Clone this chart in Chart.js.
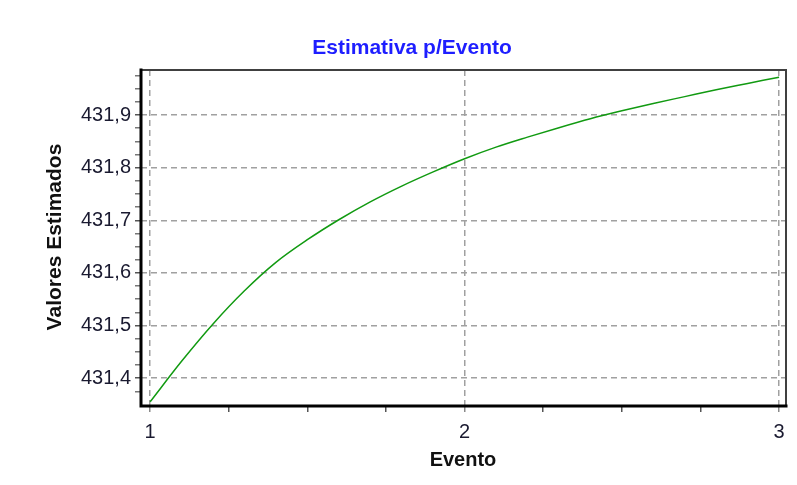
<!DOCTYPE html>
<html>
<head>
<meta charset="utf-8">
<script src="https://cdn.jsdelivr.net/npm/chart.js@4.4.1/dist/chart.umd.min.js"></script>
<style>
  html, body { margin: 0; padding: 0; background: #ffffff; }
  #wrap { width: 797px; height: 485px; position: relative; }
</style>
</head>
<body>
<div id="wrap"><canvas id="c" width="797" height="485"></canvas></div>
<script>
// ---- data ----
const eventos = [1.0, 1.1, 1.2, 1.3, 1.4, 1.5, 1.6, 1.7, 1.8, 1.9, 2.0,
                 2.1, 2.2, 2.3, 2.4, 2.5, 2.6, 2.7, 2.8, 2.9, 3.0];
const estimativas = [431.355, 431.432, 431.503, 431.566, 431.620, 431.663, 431.701,
                     431.735, 431.765, 431.792, 431.817, 431.839, 431.858, 431.876,
                     431.893, 431.908, 431.922, 431.935, 431.948, 431.960, 431.972];
const xMajorTicks = [1, 2, 3];
const yMajorTicks = [431.4, 431.5, 431.6, 431.7, 431.8, 431.9];
const xMinorTicks = [1, 1.25, 1.5, 1.75, 2, 2.25, 2.5, 2.75, 3];
const yMinorTicks = [431.375, 431.4, 431.425, 431.45, 431.475, 431.5, 431.525, 431.55, 431.575,
                     431.6, 431.625, 431.65, 431.675, 431.7, 431.725, 431.75, 431.775, 431.8,
                     431.825, 431.85, 431.875, 431.9, 431.925, 431.95, 431.975];
const chartTitle = "Estimativa p/Evento";
const xTitle = "Evento";
const yTitle = "Valores Estimados";

const isMajor = (v, majors) => majors.some(m => Math.abs(m - v) < 1e-6);

const FONT = "'Liberation Sans', Arial, sans-serif";

const textPlugin = {
  id: 'texts',
  afterDraw(chart) {
    const ctx = chart.ctx;
    const a = chart.chartArea;
    ctx.save();
    // frame: top/right thinner gray, left/bottom thick black
    ctx.lineCap = 'square';
    ctx.strokeStyle = '#404040';
    ctx.lineWidth = 2;
    ctx.beginPath();
    ctx.moveTo(a.left, a.top); ctx.lineTo(a.right, a.top); ctx.lineTo(a.right, a.bottom);
    ctx.stroke();
    ctx.strokeStyle = '#000000';
    ctx.lineWidth = 3;
    ctx.beginPath();
    ctx.moveTo(a.left, a.top); ctx.lineTo(a.left, a.bottom); ctx.lineTo(a.right, a.bottom);
    ctx.stroke();

    // title
    ctx.fillStyle = 'rgb(30,30,255)';
    ctx.font = "bold 21px " + FONT;
    ctx.textAlign = 'center';
    ctx.textBaseline = 'alphabetic';
    ctx.fillText(chartTitle, 412, 54);
    // x title
    ctx.fillStyle = '#111111';
    ctx.font = "bold 20px " + FONT;
    ctx.fillText(xTitle, 463, 466);
    // y title
    ctx.font = "bold 21px " + FONT;
    ctx.translate(61, 237);
    ctx.rotate(-Math.PI / 2);
    ctx.fillText(yTitle, 0, 0);
    ctx.restore();
  }
};

new Chart(document.getElementById('c'), {
  type: 'line',
  data: {
    datasets: [{
      data: eventos.map((x, i) => ({ x: x, y: estimativas[i] })),
      borderColor: '#119a11',
      borderWidth: 1.5,
      pointRadius: 0,
      fill: false,
      cubicInterpolationMode: 'monotone'
    }]
  },
  options: {
    responsive: false,
    animation: false,
    layout: { padding: { top: 70, right: 11, left: 0, bottom: 0 } },
    plugins: { legend: { display: false }, tooltip: { enabled: false }, title: { display: false } },
    scales: {
      x: {
        type: 'linear',
        min: 0.971,
        max: 3.022,
        afterBuildTicks: s => { s.ticks = xMinorTicks.map(v => ({ value: v })); },
        afterFit: s => { s.height = 79; },
        border: { display: false, dash: [6, 4] },
        grid: {
          drawTicks: true,
          tickLength: 6,
          lineWidth: 1.5,
          color: c => (c.tick && isMajor(c.tick.value, xMajorTicks)) ? '#a0a0a0' : 'rgba(0,0,0,0)',
          tickColor: c => (c.tick && isMajor(c.tick.value, xMajorTicks)) ? '#8a8a8a' : '#555555',
          tickWidth: 1.5
        },
        ticks: {
          autoSkip: false,
          maxRotation: 0,
          padding: 8,
          color: '#1a1a30',
          font: { family: FONT, size: 20 },
          callback: v => isMajor(v, xMajorTicks) ? String(Math.round(v)) : ''
        }
      },
      y: {
        type: 'linear',
        min: 431.347,
        max: 431.9856,
        afterBuildTicks: s => { s.ticks = yMinorTicks.map(v => ({ value: v })); },
        afterFit: s => { s.width = 141; },
        border: { display: false, dash: [6, 4] },
        grid: {
          drawTicks: true,
          tickLength: 6,
          lineWidth: 1.5,
          color: c => (c.tick && isMajor(c.tick.value, yMajorTicks)) ? '#a0a0a0' : 'rgba(0,0,0,0)',
          tickColor: c => (c.tick && isMajor(c.tick.value, yMajorTicks)) ? '#555555' : '#777777',
          tickWidth: 1.5
        },
        ticks: {
          autoSkip: false,
          padding: 4,
          color: '#1a1a30',
          font: { family: FONT, size: 20 },
          callback: v => isMajor(v, yMajorTicks) ? v.toFixed(1).replace('.', ',') : ''
        }
      }
    }
  },
  plugins: [textPlugin]
});
</script>
</body>
</html>
